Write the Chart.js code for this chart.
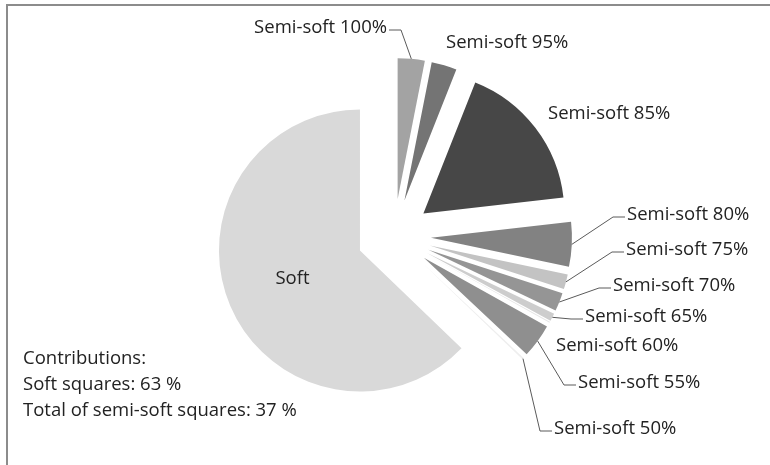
<!DOCTYPE html>
<html lang="en">
<head>
<meta charset="UTF-8">
<title>Soft and semi-soft squares</title>
<script src="https://cdn.jsdelivr.net/npm/chart.js@4.4.1/dist/chart.umd.min.js"></script>
<style>
    html, body { margin: 0; padding: 0; background: #fff; }
    #wrap { position: relative; width: 770px; height: 465px; overflow: hidden; }
    #pie { display: block; }
    #frame { position: absolute; left: 6px; top: 4px; right: -10px; bottom: -10px;
             border-top: 2px solid #8c8c8c; border-left: 2px solid #8c8c8c; pointer-events: none; }
    #note { position: absolute; left: 23px; top: 344px; font: 18.5px 'Open Sans', sans-serif;
            line-height: 26px; color: #222; }
</style>
</head>
<body>
<div id="wrap">
    <canvas id="pie" width="770" height="465"></canvas>
    <div id="frame"></div>
    <div id="note"></div>
</div>

<script>
    // slices, clockwise from 12 o'clock
    const categories = ['Semi-soft 100%', 'Semi-soft 95%', 'Semi-soft 85%', 'Semi-soft 80%',
        'Semi-soft 75%', 'Semi-soft 70%', 'Semi-soft 65%', 'Semi-soft 60%',
        'Semi-soft 55%', 'Semi-soft 50%', 'Soft'];
    // share of squares in percent
    const shares = [3.1, 2.9, 17.2, 5.1, 1.7, 2.1, 0.9, 0.1, 3.9, 0.2, 62.8];
    const noteLines = ['Contributions:', 'Soft squares: 63 %', 'Total of semi-soft squares: 37 %'];

    // styling
    const sliceColors = ['#a3a3a3', '#747474', '#474747', '#828282', '#c3c3c3', '#959595',
        '#cdcdcd', '#e6e6e6', '#8f8f8f', '#eeeeee', '#d9d9d9'];
    const explodeGap = 37;
    // where each label sits; "inside" = fraction of the radius along the slice middle
    const labelSpots = [
        {x: 387, y: 28, side: 'left', leader: true},
        {x: 446, y: 43},
        {x: 548, y: 114},
        {x: 627, y: 215, leader: true},
        {x: 626, y: 250, leader: true},
        {x: 613, y: 286, leader: true},
        {x: 585, y: 317, leader: true},
        {x: 556, y: 346},
        {x: 578, y: 383, leader: true},
        {x: 554, y: 429, leader: true},
        {inside: 0.52}
    ];

    document.getElementById('note').innerHTML = noteLines.map(t => '<div>' + t + '</div>').join('');

    // pull every slice out from the centre along its own middle angle
    const explode = {
        id: 'explode',
        afterDatasetsUpdate(chart) {
            const area = chart.chartArea;
            const cx = (area.left + area.right) / 2;
            const cy = (area.top + area.bottom) / 2;
            chart.getDatasetMeta(0).data.forEach(function (arc) {
                const mid = (arc.startAngle + arc.endAngle) / 2;
                arc.x = cx + explodeGap * Math.cos(mid);
                arc.y = cy + explodeGap * Math.sin(mid);
            });
        }
    };

    const sliceLabels = {
        id: 'sliceLabels',
        afterDatasetsDraw(chart) {
            const ctx = chart.ctx;
            const arcs = chart.getDatasetMeta(0).data;
            ctx.save();
            ctx.font = '18.5px "Open Sans"';
            ctx.fillStyle = '#222';
            ctx.strokeStyle = '#5a5a5a';
            ctx.lineWidth = 1;
            ctx.textBaseline = 'middle';
            arcs.forEach(function (arc, i) {
                const spot = labelSpots[i];
                const mid = (arc.startAngle + arc.endAngle) / 2;
                if (spot.inside) {
                    const r = arc.outerRadius * spot.inside;
                    ctx.textAlign = 'center';
                    ctx.fillText(categories[i], arc.x + r * Math.cos(mid), arc.y + r * Math.sin(mid));
                    return;
                }
                ctx.textAlign = spot.side === 'left' ? 'right' : 'left';
                ctx.fillText(categories[i], spot.x, spot.y);
                if (spot.leader) {
                    const ax = arc.x + arc.outerRadius * Math.cos(mid);
                    const ay = arc.y + arc.outerRadius * Math.sin(mid);
                    const dir = spot.side === 'left' ? 1 : -1;
                    const ex = spot.x + dir * 2;
                    const ey = spot.y + 2;
                    ctx.beginPath();
                    ctx.moveTo(ax, ay);
                    ctx.lineTo(ex + dir * 12, ey);
                    ctx.lineTo(ex, ey);
                    ctx.stroke();
                }
            });
            ctx.restore();
        }
    };

    const ctx = document.getElementById('pie').getContext('2d');
    new Chart(ctx, {
        type: 'pie',
        data: {
            labels: categories,
            datasets: [{
                data: shares,
                backgroundColor: sliceColors,
                borderWidth: 0,
                radius: 141
            }]
        },
        options: {
            responsive: false,
            animation: false,
            events: [],
            layout: { padding: { left: 18, top: 7 } },
            plugins: {
                legend: { display: false },
                tooltip: { enabled: false }
            }
        },
        plugins: [explode, sliceLabels]
    });
</script>
</body>
</html>
